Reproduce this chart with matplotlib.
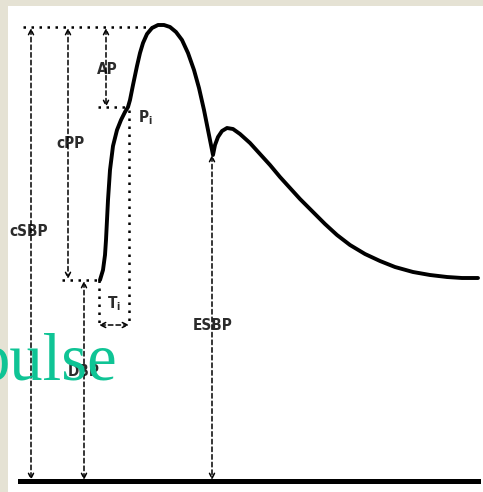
import matplotlib
matplotlib.use("Agg")
import matplotlib.pyplot as plt
from matplotlib.patches import Rectangle

# Pressure waveform (x = time, y = pressure, screen units)
wave_t = [100, 103, 105, 106, 107, 108, 110, 113, 117, 121, 125, 128, 130, 133, 137,
          140, 143, 147, 152, 158, 164, 170, 176, 182, 188, 194, 199, 204, 208, 211, 213,
          215, 218, 222, 227, 233, 240, 250, 260, 270, 280, 290, 300, 313, 325,
          337, 350, 365, 380, 395, 413, 430, 447, 462, 478]
wave_p = [280, 270, 255, 240, 220, 200, 170, 146, 130, 120, 112, 107, 100, 85, 66,
          53, 43, 34, 28, 25, 25, 27, 32, 40, 53, 70, 88, 110, 130, 145, 155,
          145, 137, 131, 128, 129, 134, 143, 154, 165, 177, 188, 199, 212, 224,
          235, 245, 254, 261, 267, 272, 275, 277, 278, 278]

# key levels
sbp_level = 25
pi_level = 107
dbp_level = 280
esbp_level = 155
zero_level = 481
foot_t = 100
pi_t = 129
notch_t = 212
ti_level = 325

label_color = "#2b2b2b"
font = dict(family="DejaVu Sans", fontstretch="condensed", fontweight="bold",
            fontsize=11, color=label_color, ha="center", va="center")

fig = plt.figure(figsize=(4.83, 4.92), dpi=100, facecolor="#e5e2d4")
ax = fig.add_axes([0, 0, 1, 1])
ax.set_xlim(0, 483)
ax.set_ylim(492, 0)
ax.axis("off")
ax.add_patch(Rectangle((8, 6), 480, 490, facecolor="white", edgecolor="none", zorder=0))

# waveform and baseline
ax.plot(wave_t, wave_p, color="black", lw=2.8, solid_capstyle="round", zorder=5)
ax.plot([20, 478], [zero_level, zero_level], color="black", lw=3.6, zorder=5)

# dotted guide lines
dot = dict(color="black", lw=1.8, linestyle=(0, (1, 2.2)), zorder=3)
ax.plot([23, 152], [sbp_level + 2, sbp_level + 2], **dot)
ax.plot([98, pi_t - 1], [pi_level, pi_level], **dot)
ax.plot([62, foot_t], [dbp_level, dbp_level], **dot)
ax.plot([pi_t, pi_t], [pi_level + 3, ti_level], **dot)
ax.plot([foot_t - 1, foot_t - 1], [dbp_level, ti_level], **dot)


def arrow(x0, y0, x1, y1):
    ax.annotate("", xy=(x1, y1), xytext=(x0, y0),
                arrowprops=dict(arrowstyle="<->", color="black", lw=1.1,
                                linestyle=(0, (3, 2)), mutation_scale=9,
                                shrinkA=0, shrinkB=0), zorder=4)


arrow(31, sbp_level + 3, 31, zero_level - 1)
arrow(68, sbp_level + 3, 68, dbp_level - 1)
arrow(106, sbp_level + 3, 106, pi_level)
arrow(84, dbp_level + 1, 84, zero_level - 1)
arrow(notch_t, esbp_level, notch_t, zero_level - 1)
arrow(foot_t - 1, ti_level, pi_t, ti_level)

box = dict(facecolor="white", edgecolor="none", pad=1.5)
ax.text(29, 231, "cSBP", bbox=box, **font)
ax.text(70, 143, "cPP", bbox=box, **font)
ax.text(107, 70, "AP", bbox=box, **font)
ax.text(84, 371, "DBP", bbox=box, **font)
ax.text(213, 325, "ESBP", bbox=box, **font)
ax.text(145, 118, r"P$_\mathregular{i}$", **font)
ax.text(114, 304, r"T$_\mathregular{i}$", **font)

# slide title fragment overlapping the figure
ax.text(117, 380, "pulse", family="Liberation Serif", fontsize=48, color="#0fc495",
        ha="right", va="baseline", zorder=10)

fig.savefig("out.png", dpi=100, facecolor=fig.get_facecolor())
